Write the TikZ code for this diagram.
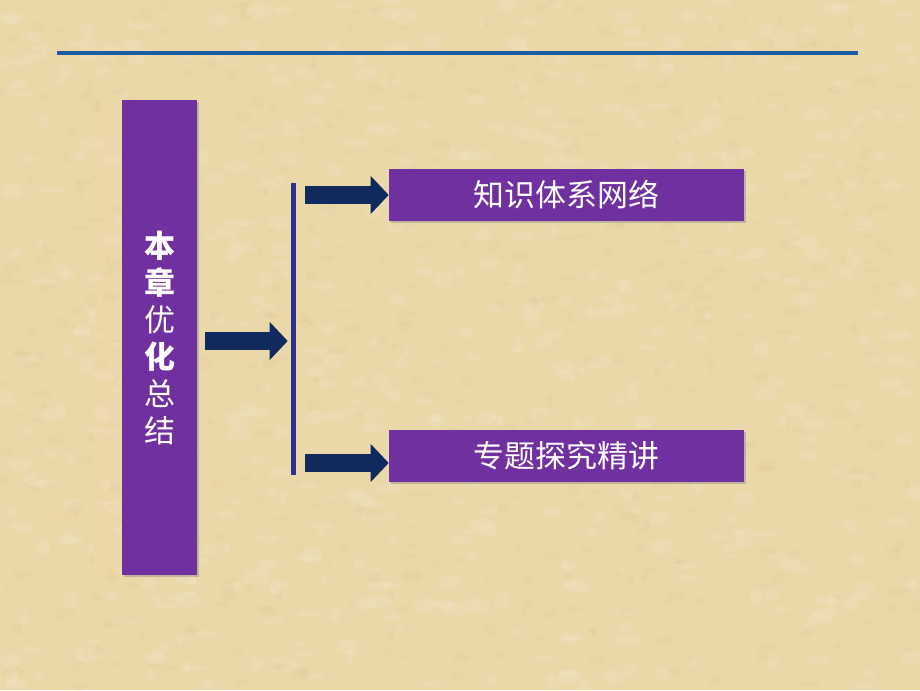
\documentclass[tikz,border=0pt]{standalone}
\usepackage{fontspec}
\newfontfamily\cjk{Noto Sans CJK SC}
\usetikzlibrary{calc,positioning,arrows.meta,shadows}
\definecolor{paper}{HTML}{EAD8A9}
\definecolor{boxpurple}{HTML}{7030A0}
\definecolor{arrownavy}{HTML}{102A5E}
\definecolor{barblue}{HTML}{2E3192}
\definecolor{lineblue}{HTML}{1B5DA2}

\begin{document}
\begin{tikzpicture}
        [box/.style={
            rectangle,
            fill=boxpurple,
            text=white,
            inner sep=0pt,
            drop shadow={shadow xshift=1.5pt, shadow yshift=-1.5pt, opacity=.4},
            font=\cjk\fontsize{22}{26.3}\selectfont},
          bigarrow/.style={
            arrownavy,
            line width=12.4pt,
            -{Triangle[length=12.8pt, width=26.3pt]}}]
        \fill[paper] (0,0) rectangle (23,17.25);
        \useasboundingbox (0,0) rectangle (23,17.25);
        \pgfmathsetseed{11}
        \foreach \i in {1,...,600}
          \fill[white, opacity=.1] ({rnd*23},{rnd*17.25}) ellipse ({.08+rnd*.25} and {.05+rnd*.15});
        \foreach \i in {1,...,500}
          \fill[brown, opacity=.04] ({rnd*23},{rnd*17.25}) ellipse ({.06+rnd*.2} and {.04+rnd*.12});

        \draw[lineblue, line width=3pt] (1.425,15.925) -- (21.45,15.925);

        \node[box, minimum width=1.875cm, minimum height=11.875cm, align=center]
          (chap) at (3.99,8.81) {{\bfseries 本}\\{\bfseries 章}\\优\\{\bfseries 化}\\总\\结};
        \node[rectangle, fill=barblue, minimum width=0.125cm, minimum height=7.3cm, inner sep=0pt]
          (bar) at (7.3375,9.025) {};
        \node[box, minimum width=8.875cm, minimum height=1.3cm] (know) at (14.1625,12.375) {知识体系网络};
        \node[box, minimum width=8.875cm, minimum height=1.3cm] (topic) at (14.1625,5.8625) {专题探究精讲};

        \coordinate (midarr) at (7.2,8.725);
        \coordinate (botarr) at (9.7,5.675);
        \draw[bigarrow, shorten <=0.2cm, shorten >=0.075cm] (chap.east |- midarr) -- (bar.west |- midarr);
        \draw[bigarrow, shorten <=0.225cm] (bar.east |- know) -- (know.west);
        \draw[bigarrow, shorten <=0.225cm] (bar.east |- botarr) -- (topic.west |- botarr);
\end{tikzpicture}
\end{document}
